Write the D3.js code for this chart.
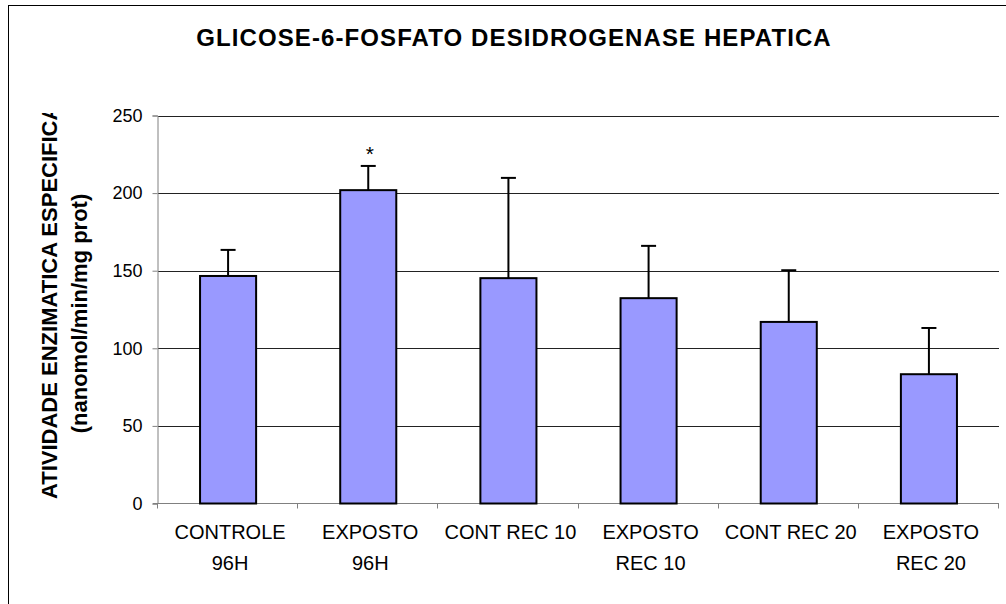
<!DOCTYPE html>
<html>
<head>
<meta charset="utf-8">
<script src="https://cdn.jsdelivr.net/npm/d3@7"></script>
<style>
  body { margin: 0; background: #fff; }
  text { font-family: "Liberation Sans", Arial, sans-serif; fill: #000; }
</style>
</head>
<body>
<svg id="chart" width="1006" height="604"></svg>
<script>
// Data
var categories = [["CONTROLE", "96H"], ["EXPOSTO", "96H"], ["CONT REC 10"],
                  ["EXPOSTO", "REC 10"], ["CONT REC 20"], ["EXPOSTO", "REC 20"]];
var means = [146.6, 201.9, 145.2, 132.3, 117.0, 83.3];
var sds = [16.8, 15.6, 64.6, 33.7, 33.3, 29.8];
var marks = ["", "*", "", "", "", ""];
var yTicks = [0, 50, 100, 150, 200, 250];

var titleText = "GLICOSE-6-FOSFATO DESIDROGENASE HEPATICA";
var yTitle1 = "ATIVIDADE ENZIMATICA ESPECIFICA";
var yTitle2 = "(nanomol/min/mg prot)";

// The svg
var svg = d3.select("#chart");

// plot area
var plotLeft = 158, plotRight = 999, plotTop = 115.5, plotBottom = 503.5;

var x = d3.scaleBand()
    .domain(d3.range(categories.length))
    .range([plotLeft, plotRight])
    .paddingInner(0.6)
    .paddingOuter(0.3);

var y = d3.scaleLinear()
    .domain([0, 250])
    .range([plotBottom, plotTop]);

// outer frame (runs past the right and bottom edge)
svg.append("rect")
    .attr("x", 8.5).attr("y", 5.5)
    .attr("width", 1010).attr("height", 610)
    .attr("fill", "none")
    .attr("stroke", "#000")
    .attr("stroke-width", 1);

// title
svg.append("text")
    .attr("x", 514).attr("y", 46)
    .attr("text-anchor", "middle")
    .style("font-size", "24px")
    .style("font-weight", "bold")
    .style("letter-spacing", "1.1px")
    .text(titleText);

// gridlines
svg.append("g")
    .selectAll("line")
    .data(yTicks.filter(function (d) { return d > 0; }))
    .enter()
    .append("line")
    .attr("x1", plotLeft).attr("x2", plotRight)
    .attr("y1", function (d) { return Math.round(y(d)) + 0.5; })
    .attr("y2", function (d) { return Math.round(y(d)) + 0.5; })
    .attr("stroke", "#222");

// y axis
var yAxis = svg.append("g")
    .attr("transform", "translate(" + (plotLeft - 0.5) + ",0)")
    .call(d3.axisLeft(y).tickValues(yTicks).tickSize(5).tickPadding(10));
yAxis.select(".domain").attr("stroke", "#808080");
yAxis.selectAll(".tick line").attr("stroke", "#808080");
yAxis.selectAll(".tick text")
    .style("font-family", "'Liberation Sans', Arial, sans-serif")
    .style("font-size", "18px")
    .attr("fill", "#000");

// x axis line and category ticks
svg.append("line")
    .attr("x1", plotLeft - 5).attr("x2", plotRight)
    .attr("y1", plotBottom).attr("y2", plotBottom)
    .attr("stroke", "#808080");

svg.append("g")
    .selectAll("line")
    .data(d3.range(categories.length + 1))
    .enter()
    .append("line")
    .attr("x1", function (i) { return Math.round(plotLeft + i * x.step()) - 0.5; })
    .attr("x2", function (i) { return Math.round(plotLeft + i * x.step()) - 0.5; })
    .attr("y1", plotBottom).attr("y2", plotBottom + 5)
    .attr("stroke", "#808080");

// bars
svg.append("g")
    .selectAll("rect")
    .data(means)
    .enter()
    .append("rect")
    .attr("x", function (d, i) { return x(i); })
    .attr("y", function (d) { return y(d); })
    .attr("width", x.bandwidth())
    .attr("height", function (d) { return y(0) - y(d); })
    .attr("fill", "#9999FF")
    .attr("stroke", "#000")
    .attr("stroke-width", 2);

// error bars (upper only)
var err = svg.append("g")
    .selectAll("g")
    .data(means)
    .enter()
    .append("g");

err.append("line")
    .attr("x1", function (d, i) { return x(i) + x.bandwidth() / 2; })
    .attr("x2", function (d, i) { return x(i) + x.bandwidth() / 2; })
    .attr("y1", function (d) { return y(d); })
    .attr("y2", function (d, i) { return y(d + sds[i]); })
    .attr("stroke", "#000")
    .attr("stroke-width", 2);

err.append("line")
    .attr("x1", function (d, i) { return x(i) + x.bandwidth() / 2 - 7.5; })
    .attr("x2", function (d, i) { return x(i) + x.bandwidth() / 2 + 7.5; })
    .attr("y1", function (d, i) { return y(d + sds[i]); })
    .attr("y2", function (d, i) { return y(d + sds[i]); })
    .attr("stroke", "#000")
    .attr("stroke-width", 2);

// significance marks
err.append("text")
    .attr("x", function (d, i) { return x(i) + x.bandwidth() / 2 + 1.5; })
    .attr("y", function (d, i) { return y(d + sds[i]) - 5; })
    .attr("text-anchor", "middle")
    .style("font-size", "21px")
    .text(function (d, i) { return marks[i]; });

// category labels
var labels = svg.append("g")
    .selectAll("text")
    .data(categories)
    .enter()
    .append("text")
    .attr("text-anchor", "middle")
    .style("font-size", "20px");

labels.selectAll("tspan")
    .data(function (d, i) { return d.map(function (t) { return { t: t, i: i }; }); })
    .enter()
    .append("tspan")
    .attr("x", function (d) { return x(d.i) + x.bandwidth() / 2 + 2; })
    .attr("y", function (d, j) { return 539 + j * 31; })
    .text(function (d) { return d.t; });

// y axis title (first line is clipped at the top, as in the original)
svg.append("clipPath")
    .attr("id", "ytitle-clip")
    .append("rect")
    .attr("x", 0).attr("y", 113)
    .attr("width", 120).attr("height", 480);

var yTitle = svg.append("g")
    .attr("clip-path", "url(#ytitle-clip)");

yTitle.append("text")
    .attr("transform", "translate(56.5,499) rotate(-90)")
    .attr("text-anchor", "start")
    .style("font-size", "22px")
    .style("font-weight", "bold")
    .text(yTitle1);

yTitle.append("text")
    .attr("transform", "translate(87,313.5) rotate(-90)")
    .attr("text-anchor", "middle")
    .style("font-size", "22px")
    .style("font-weight", "bold")
    .text(yTitle2);
</script>
</body>
</html>
